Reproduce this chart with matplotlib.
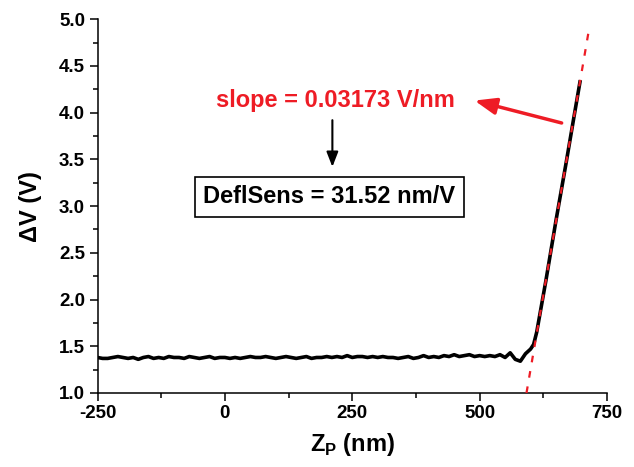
import matplotlib
matplotlib.use("Agg")
import matplotlib.pyplot as plt
import numpy as np

plt.rcParams['font.family'] = ['Liberation Sans', 'DejaVu Sans']
plt.rcParams['mathtext.fontset'] = 'custom'
plt.rcParams['mathtext.bf'] = 'Liberation Sans:bold'
plt.rcParams['mathtext.rm'] = 'Liberation Sans'

# measured data (Z_P in nm, deltaV in V)
z_base = list(range(-250, 600, 10))
v_base = [1.38, 1.37, 1.37, 1.38, 1.39, 1.38, 1.37, 1.38, 1.36, 1.38,
          1.39, 1.37, 1.38, 1.37, 1.39, 1.38, 1.38, 1.37, 1.39, 1.38,
          1.37, 1.38, 1.39, 1.37, 1.38, 1.38, 1.37, 1.38, 1.37, 1.38,
          1.39, 1.38, 1.38, 1.39, 1.38, 1.37, 1.38, 1.39, 1.38, 1.37,
          1.38, 1.39, 1.37, 1.38, 1.38, 1.39, 1.38, 1.39, 1.38, 1.40,
          1.38, 1.39, 1.39, 1.38, 1.39, 1.38, 1.39, 1.38, 1.38, 1.37,
          1.38, 1.39, 1.37, 1.38, 1.40, 1.38, 1.39, 1.38, 1.40, 1.39,
          1.41, 1.39, 1.40, 1.41, 1.39, 1.40, 1.39, 1.40, 1.39, 1.41,
          1.38, 1.43, 1.36, 1.34, 1.42]
z_rise = [600, 606, 612, 630, 650, 670, 685, 697]
v_rise = [1.47, 1.52, 1.65, 2.20, 2.85, 3.47, 3.95, 4.33]

z = z_base + z_rise
v = v_base + v_rise

# linear fit line
fit_slope = 0.03173
fit_z0 = 592.0
fit_z = [592.0, 716.0]

xticks = [-250, 0, 250, 500, 750]
yticks = [1.0, 1.5, 2.0, 2.5, 3.0, 3.5, 4.0, 4.5, 5.0]

fig = plt.figure(figsize=(6.34, 4.67), dpi=100)
ax = fig.add_axes([0.1538, 0.1585, 0.8036, 0.8002])

ax.plot(z, v, color='black', lw=2.6, solid_joinstyle='round', zorder=3)
fit_v = [1.0 + fit_slope * (zz - fit_z0) for zz in fit_z]
ax.plot(fit_z, fit_v, color='#ee1c25', lw=1.6, ls=(0, (3, 4)), zorder=4)

ax.set_xlim(-250, 750)
ax.set_ylim(1.0, 5.0)
ax.set_xticks(xticks)
ax.set_yticks(yticks)
ax.set_xticks([-125, 125, 375, 625], minor=True)
ax.set_yticks(np.arange(1.25, 5.0, 0.5), minor=True)
ax.set_xticklabels([str(t) for t in xticks])
ax.set_yticklabels([f"{t:.1f}" for t in yticks])
for lab in ax.get_xticklabels() + ax.get_yticklabels():
    lab.set_fontweight('bold')
    lab.set_fontsize(13.5)

ax.spines['top'].set_visible(False)
ax.spines['right'].set_visible(False)
for s in ['left', 'bottom']:
    ax.spines[s].set_linewidth(1.1)
ax.tick_params(which='major', direction='out', length=6, width=1.1, pad=3)
ax.tick_params(which='minor', direction='out', length=3.5, width=1.1)

ax.set_xlabel(r'Z$_\mathbf{P}$ (nm)', fontsize=17, fontweight='bold', labelpad=6)
ax.set_ylabel('ΔV (V)', fontsize=17, fontweight='bold', labelpad=12)

ax.text(217, 4.13, 'slope = 0.03173 V/nm', color='#ee1c25', fontsize=17,
        fontweight='bold', ha='center', va='center')
ax.annotate('', xy=(490, 4.13), xytext=(661, 3.89),
            arrowprops=dict(arrowstyle='-|>,head_length=1.3,head_width=0.5',
                            color='#ee1c25', lw=2.5, shrinkA=0, shrinkB=0))
ax.annotate('', xy=(211, 3.42), xytext=(211, 3.92),
            arrowprops=dict(arrowstyle='-|>,head_length=0.9,head_width=0.35',
                            color='black', lw=1.5, shrinkA=0, shrinkB=0))
ax.text(205, 3.10, 'DeflSens = 31.52 nm/V', color='black', fontsize=17,
        fontweight='bold', ha='center', va='center',
        bbox=dict(boxstyle='square,pad=0.35', fc='white', ec='black', lw=1.2))

fig.savefig('out.png', dpi=100)
